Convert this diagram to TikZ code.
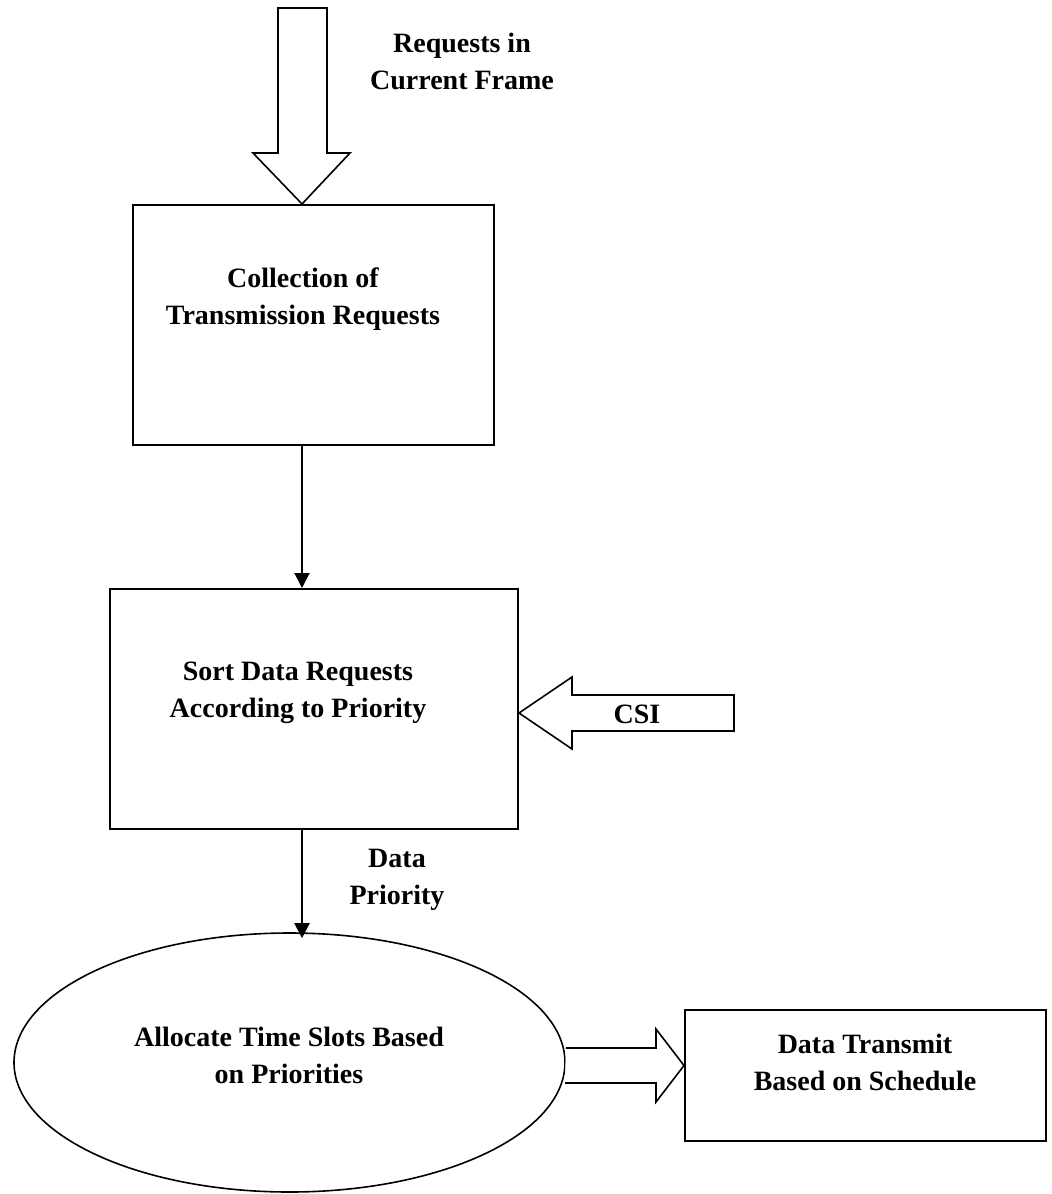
\documentclass[tikz,border=0pt]{standalone}
\usepackage{fontspec}
\setmainfont{Liberation Serif}
\usetikzlibrary{shapes.geometric,arrows.meta}
\begin{document}
\begin{tikzpicture}[x=1pt,y=-1pt,
  lbl/.style={font=\fontsize{28}{37}\selectfont\bfseries, align=center, inner sep=0pt},
  procbox/.style={draw, line width=2pt, inner sep=0pt, rectangle},
  oval/.style={draw, ellipse, line width=1.6pt, inner sep=0pt},
  blockarrow/.style={draw, line width=1.6pt, line join=miter, fill=white},
  conn/.style={draw, line width=2pt, -{Triangle[length=15pt,width=15pt]}}
]
\useasboundingbox (0,0) rectangle (1052,1194);

% process boxes and the scheduling oval
\node[procbox, minimum width=361pt, minimum height=240pt] (collect) at (313.5,325) {};
\node[procbox, minimum width=408pt, minimum height=240pt] (sort) at (314,709) {};
\node[oval, minimum width=551pt, minimum height=259pt] (alloc) at (289.5,1062.5) {};
\node[procbox, minimum width=361pt, minimum height=131pt] (transmit) at (865.5,1075.5) {};

% texts
\node[lbl] (reqlbl) at (462,61) {Requests in\\Current Frame};
\node[lbl] (collectlbl) at (303,299) {Collection of\\Transmission Requests};
\node[lbl] (sortlbl) at (298,693) {Sort Data Requests\\According to Priority};
\node[lbl] (prilbl) at (397,880) {Data\\Priority};
\node[lbl] (alloclbl) at (289,1055) {Allocate Time Slots Based\\on Priorities};
\node[lbl] (transmitlbl) at (865,1062) {Data Transmit\\Based on Schedule};

% reference levels for the arrows
\coordinate (ax) at (302,0);
\coordinate (csiy) at (0,713);
\coordinate (outy) at (0,1065.5);

% incoming requests (hollow block arrow)
\coordinate (reqtip) at (collect.north -| ax);
\draw[blockarrow] (reqtip) -- (253,153) -- (278,153) -- (278,8) -- (327,8)
  -- (327,153) -- (350,153) -- cycle;

% CSI input (hollow block arrow)
\coordinate (csitip) at (sort.east |- csiy);
\draw[blockarrow] (csitip) -- (572,677) -- (572,695) -- (734,695) -- (734,731)
  -- (572,731) -- (572,749) -- cycle;
\node[lbl] (csilbl) at (637,714) {CSI};

% schedule output (hollow block arrow)
\coordinate (outtail) at (alloc.east |- outy);
\coordinate (outtip) at (transmit.west |- outy);
\draw[blockarrow] (outtail) ++(0,-17.5) -- (656,1048) -- (656,1029) -- (outtip)
  -- (656,1102) -- (656,1083) -- (565,1083);

% flow connectors
\draw[conn] (collect.south -| ax) -- (sort.north -| ax);
\draw[conn] (sort.south -| ax) -- ([yshift=-6pt]alloc.north -| ax);
\end{tikzpicture}
\end{document}
